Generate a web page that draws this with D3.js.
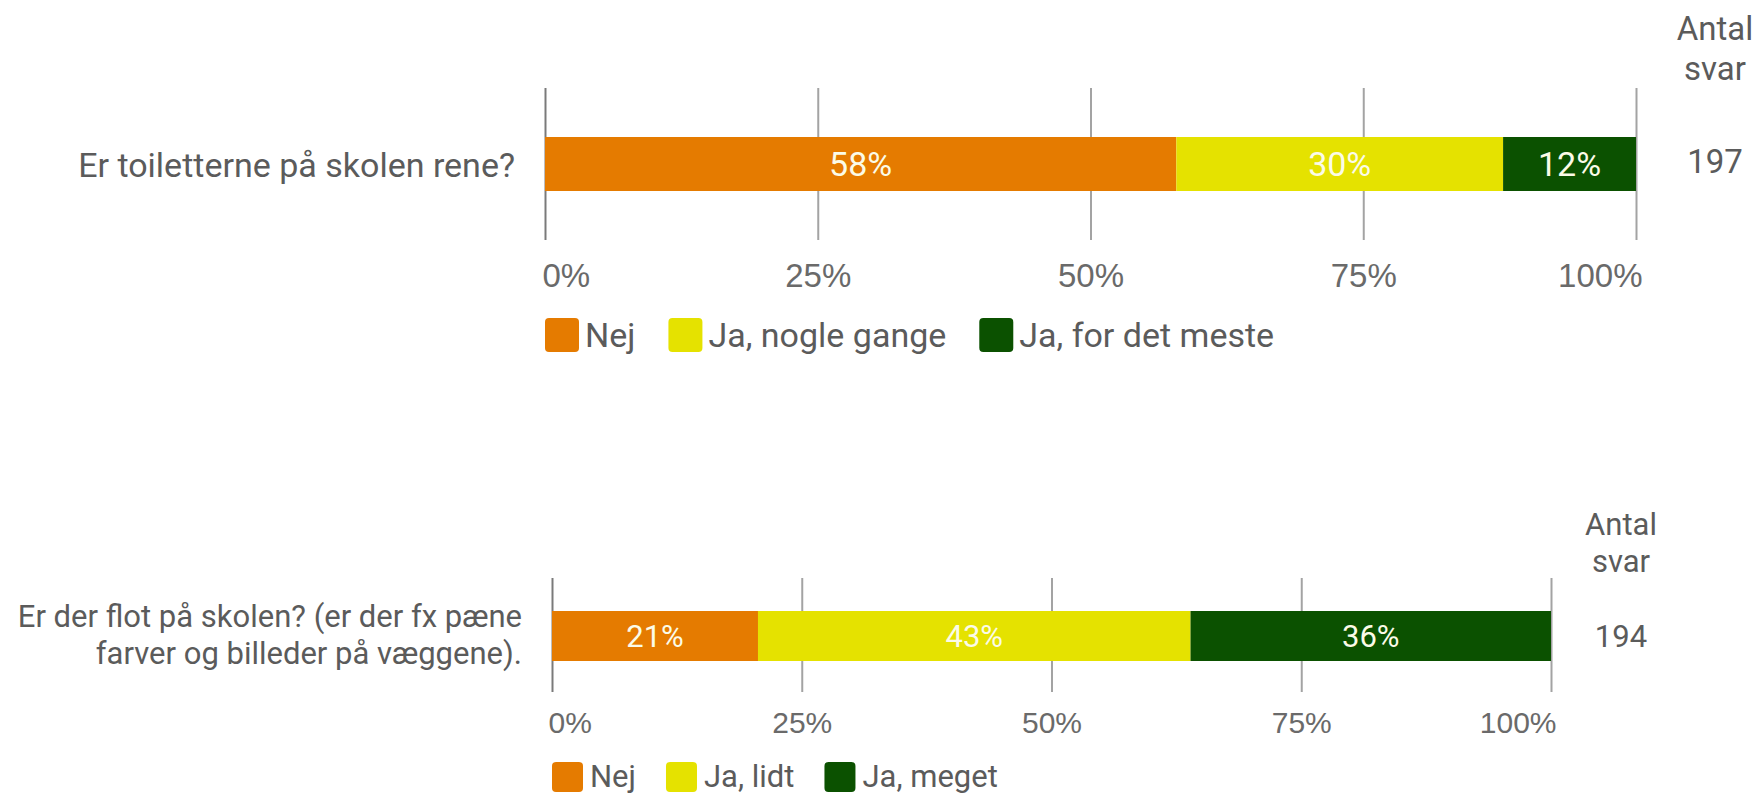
<!DOCTYPE html>
<html>
<head>
<meta charset="utf-8">
<script src="https://cdn.jsdelivr.net/npm/d3@7"></script>
<style>
  body { margin: 0; background: #fff; }
  svg { display: block; font-family: Roboto, 'Noto Sans', sans-serif; }
  .tick line { stroke: #a3a3a3; stroke-width: 2; }
  .tick:first-of-type line { stroke: #7a7a7a; }
  .tick text { fill: #6a6a6a; }
</style>
</head>
<body>
<svg width="1760" height="797"></svg>
<script>
'use strict';

const tick_values = [0, 25, 50, 75, 100];
const count_header = ['Antal', 'svar'];
const category_colors = ['#E57B00', '#E5E200', '#0B5100'];

// question 1
const q1_question = ['Er toiletterne på skolen rene?'];
const q1_categories = ['Nej', 'Ja, nogle gange', 'Ja, for det meste'];
const q1_counts = [114, 59, 24];

// question 2
const q2_question = ['Er der flot på skolen? (er der fx pæne', 'farver og billeder på væggene).'];
const q2_categories = ['Nej', 'Ja, lidt', 'Ja, meget'];
const q2_counts = [40, 84, 70];

const svg = d3.select('svg');

function draw_panel(question, categories, counts, lay) {
  const g = svg.append('g');
  const total = d3.sum(counts);

  const x = d3.scaleLinear().domain([0, 100]).range([lay.x0, lay.x1]);

  // gridlines + tick labels
  const axis = d3.axisBottom(x)
    .tickValues(tick_values)
    .tickFormat(d => d + '%')
    .tickSize(lay.gridBottom - lay.gridTop);

  const ax = g.append('g')
    .attr('transform', `translate(0,${lay.gridTop})`)
    .call(axis);
  ax.select('.domain').remove();
  ax.selectAll('.tick text')
    .attr('y', lay.tickBase - lay.gridTop)
    .attr('dy', null)
    .style('font-size', lay.tickFont + 'px')
    .attr('text-anchor', (d, i) => i == 0 ? 'start' : (i == tick_values.length - 1 ? 'end' : 'middle'))
    .attr('dx', (d, i) => i == 0 ? lay.edgeDx[0] : (i == tick_values.length - 1 ? lay.edgeDx[1] : 0));

  // stacked segments
  let acc = 0;
  const segs = counts.map((c, i) => {
    const v = c / total * 100;
    const s = { start: acc, end: acc + v, pct: Math.round(v), color: category_colors[i] };
    acc += v;
    return s;
  });

  g.selectAll('rect.seg').data(segs).join('rect')
    .attr('class', 'seg')
    .attr('x', d => x(d.start))
    .attr('width', d => x(d.end) - x(d.start))
    .attr('y', lay.barTop)
    .attr('height', lay.barBottom - lay.barTop)
    .attr('fill', d => d.color);

  g.selectAll('text.pct').data(segs).join('text')
    .attr('class', 'pct')
    .attr('x', d => (x(d.start) + x(d.end)) / 2)
    .attr('y', (lay.barTop + lay.barBottom) / 2)
    .attr('dy', '0.36em')
    .attr('text-anchor', 'middle')
    .style('font-size', lay.barFont + 'px')
    .attr('fill', '#fbfbe8')
    .text(d => d.pct + '%');

  // question label
  g.append('text')
    .attr('text-anchor', 'end')
    .style('font-size', lay.labelFont + 'px')
    .attr('fill', '#5b5b5b')
    .selectAll('tspan').data(question).join('tspan')
    .attr('x', lay.labelRight)
    .attr('y', (d, i) => lay.labelBase + i * lay.labelLine)
    .text(d => d);

  // answer count column
  g.append('text')
    .attr('text-anchor', 'middle')
    .style('font-size', lay.countFont + 'px')
    .attr('fill', '#5b5b5b')
    .selectAll('tspan').data(count_header).join('tspan')
    .attr('x', lay.countX)
    .attr('y', (d, i) => lay.headerBase + i * lay.headerLine)
    .text(d => d);

  g.append('text')
    .attr('x', lay.countX)
    .attr('y', lay.countBase)
    .attr('text-anchor', 'middle')
    .style('font-size', lay.countFont + 'px')
    .attr('fill', '#5b5b5b')
    .text(total);

  // legend
  let lx = lay.x0;
  categories.forEach((c, i) => {
    g.append('rect')
      .attr('x', lx)
      .attr('y', lay.legTop)
      .attr('width', lay.sw)
      .attr('height', lay.sh)
      .attr('rx', 4)
      .attr('fill', category_colors[i]);
    const t = g.append('text')
      .attr('x', lx + lay.sw + lay.swGap)
      .attr('y', lay.legBase)
      .style('font-size', lay.legFont + 'px')
      .attr('fill', '#5b5b5b')
      .text(c);
    lx += lay.sw + lay.swGap + t.node().getComputedTextLength() + lay.itemGap;
  });
}

draw_panel(q1_question, q1_categories, q1_counts, {
  x0: 545, x1: 1636,
  barTop: 137, barBottom: 191,
  gridTop: 88, gridBottom: 240,
  tickBase: 287, tickFont: 33, edgeDx: [-3, 6],
  barFont: 34,
  labelRight: 515, labelBase: 177, labelLine: 36, labelFont: 34,
  countX: 1715, headerBase: 40, headerLine: 40, countBase: 173, countFont: 33,
  legTop: 318, legBase: 347, sw: 34, sh: 34, swGap: 6, itemGap: 33, legFont: 34
});

draw_panel(q2_question, q2_categories, q2_counts, {
  x0: 552, x1: 1551,
  barTop: 611, barBottom: 661,
  gridTop: 578, gridBottom: 692,
  tickBase: 733, tickFont: 30, edgeDx: [-4, 5],
  barFont: 31,
  labelRight: 522, labelBase: 627, labelLine: 36.5, labelFont: 31,
  countX: 1621, headerBase: 535, headerLine: 37, countBase: 647, countFont: 31,
  legTop: 762, legBase: 787, sw: 31, sh: 30, swGap: 7, itemGap: 30, legFont: 31
});
</script>
</body>
</html>
